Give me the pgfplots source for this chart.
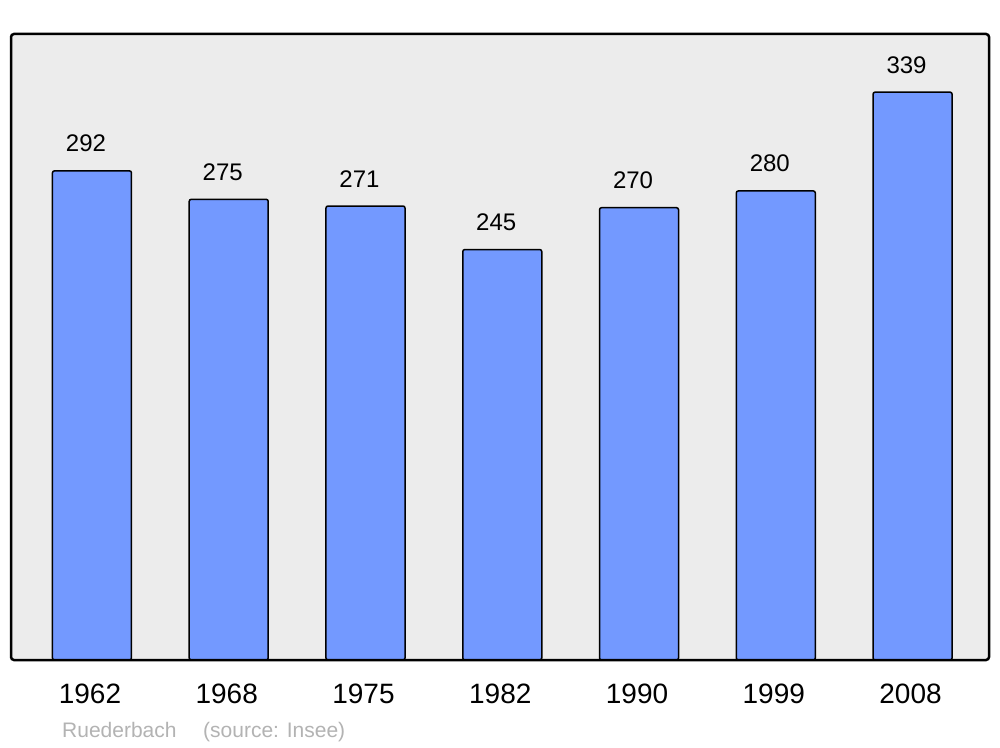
\documentclass[border=0pt]{standalone}
\usepackage{fontspec}
\setmainfont{Liberation Sans}
\usepackage{pgfplots}
\pgfplotsset{compat=1.18}
\definecolor{barblue}{HTML}{7399FF}
\definecolor{bg}{HTML}{ECECEC}
\definecolor{foot}{HTML}{B3B3B3}
\begin{document}
\begin{tikzpicture}
\path[use as bounding box, fill=white] (0,0) rectangle (1000pt,747pt);
\begin{axis}[at={(11pt,87pt)}, anchor=south west, scale only axis,
  width=978pt, height=626pt,
  xmin=-0.592, xmax=6.559, ymin=0, ymax=373.7,
  /pgf/number format/assume math mode=true,
  axis background/.style={fill=bg, rounded corners=3pt},
  axis line style={line width=2.5pt, rounded corners=3pt},
  axis on top,
  xtick={0,...,6}, xticklabels={1962,1968,1975,1982,1990,1999,2008},
  ytick=\empty, major tick length=0pt,
  xticklabel style={font=\fontsize{28}{30}\selectfont, anchor=north, inner sep=0pt, yshift=-24pt, xshift=-2pt},
  ybar, bar width=79pt,
  nodes near coords,
  every node near coord/.append style={font=\fontsize{24}{28}\selectfont, anchor=south, inner sep=0pt, yshift=18pt, xshift=-6pt}]
\addplot[fill=barblue, draw=black, line width=1.5pt, rounded corners=2pt]
  coordinates {(0,292)(1,275)(2,271)(3,245)(4,270)(5,280)(6,339)};
\end{axis}
\node[anchor=base west, text=foot, font=\fontsize{21}{24}\selectfont, inner sep=0pt] at (62pt,10pt) {Ruederbach};
\node[anchor=base west, text=foot, font=\fontsize{21}{24}\selectfont, inner sep=0pt] at (203pt,10pt) {(source: Insee)};
\end{tikzpicture}
\end{document}
